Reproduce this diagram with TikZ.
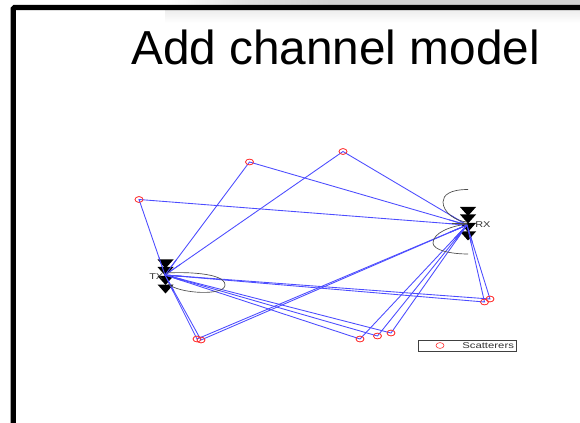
\documentclass[tikz,border=0pt]{standalone}
\usepackage{fontspec}
\setmainfont{Liberation Sans}
\usetikzlibrary{shapes.geometric,calc}
\tikzset{
  px/.style={x=0.75pt,y=-0.75pt},
  scat/.style={ellipse,draw=red!80!white,line width=0.45pt,minimum width=6pt,minimum height=4.4pt,inner sep=0pt},
  ray/.style={draw=blue!70!white,line width=0.65pt},
  ant/.style={fill=black,draw=none},
  lobe/.style={draw=black!70,line width=0.5pt},
  lab/.style={inner sep=0pt,font=\fontsize{6.3pt}{7pt}\selectfont,text=black!80},
}
\newcommand{\antmark}[2]{\fill[ant] (#1-8,#2) -- (#1+8,#2) -- (#1,#2+9) -- cycle;}
\begin{document}
\begin{tikzpicture}[px]
\useasboundingbox (0,0) rectangle (580,423);
\fill[white] (0,0) rectangle (580,423);
% slide shadow band
\shade[left color=white,right color=black!18,middle color=black!12] (165,0) rectangle (330,6);
\fill[black!18] (330,0) rectangle (580,6);
\shade[top color=black!7,bottom color=white] (165,10) rectangle (580,23);
% slide frame
\draw[black,line width=4pt,rounded corners=1pt] (13.3,423) -- (13.3,7.5) -- (580,7.5);
\node[inner sep=0pt,font=\fontsize{35.8pt}{40pt}\selectfont] (title) at (335.5,47) {Add channel model};
% terminals
\coordinate (tx) at (165,275);
\coordinate (rx) at (467,225);
% scatterers
\node[scat] (s1) at (139,199.5) {};
\node[scat] (s2) at (249.5,162) {};
\node[scat] (s3) at (343,151.5) {};
\node[scat] (s4) at (197,339) {};
\node[scat] (s5) at (201,340) {};
\node[scat] (s6) at (360,339) {};
\node[scat] (s7) at (377.5,336) {};
\node[scat] (s8) at (391,333) {};
\node[scat] (s9) at (484.5,302) {};
\node[scat] (s10) at (490,299) {};
% rays
\foreach \s in {s1,s2,s3,s4,s5,s6,s7,s8,s9,s10}{
  \draw[ray] (tx) -- (\s.center) -- (rx);
}
% antennas
\antmark{165.5}{259.5}
\antmark{165.5}{267}
\antmark{165.5}{276}
\antmark{165.5}{284.5}
\antmark{468}{207}
\antmark{468}{214.5}
\antmark{468}{223}
\antmark{468}{231.5}
% rays over the antennas near the terminals
\foreach \s in {s1,s2,s3,s4,s5,s6,s7,s8,s9,s10}{
  \draw[ray] (tx) -- ($(tx)!14pt!(\s.center)$);
  \draw[ray] (rx) -- ($(rx)!14pt!(\s.center)$);
}
% gain lobes
\draw[lobe] (167,273) .. controls (180,272) and (225,272) .. (225,285) .. controls (225,296) and (180,294) .. (168,284);
\draw[lobe] (468,189.5) .. controls (450,189.5) and (443,195) .. (443,202) .. controls (443,212) and (455,221) .. (467,222);
\draw[lobe] (468,224) .. controls (450,226) and (433,233) .. (433,243) .. controls (433,250) and (450,254) .. (468,254);
\draw[lobe] (452,223) -- (467,223);
\foreach \s in {s1,s2,s3,s4,s5,s6,s7,s8,s9,s10}{
  \node[scat] at (\s.center) {};
}
% labels
\node[lab,anchor=west] (txl) at (149,276.5) {\scalebox{1.3}[1]{TX}};
\node[lab,anchor=west] (rxl) at (475,225) {\scalebox{1.3}[1]{RX}};
% legend
\node[draw=black!75,line width=0.5pt,minimum width=73.5pt,minimum height=8.2pt,inner sep=0pt] (legend) at (467,345.5) {};
\node[scat] (lm) at (440,345.5) {};
\node[lab,anchor=west] (ll) at (462,345.5) {\scalebox{1.35}[1]{Scatterers}};
\end{tikzpicture}
\end{document}
